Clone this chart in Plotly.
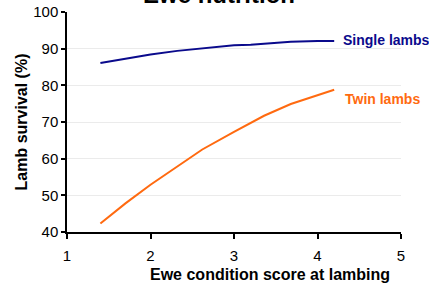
import plotly.graph_objects as go

single_x = [1.4, 1.7, 2.0, 2.32, 2.6, 3.0, 3.2, 3.4, 3.68, 4.0, 4.2]
single_y = [86.1, 87.3, 88.4, 89.4, 90.0, 90.9, 91.1, 91.5, 91.9, 92.1, 92.1]
twin_x = [1.4, 1.7, 2.0, 2.32, 2.62, 3.0, 3.36, 3.68, 4.0, 4.2]
twin_y = [42.3, 47.8, 52.9, 57.9, 62.5, 67.3, 71.7, 74.9, 77.2, 78.8]
x_ticks = [1, 2, 3, 4, 5]
y_ticks = [40, 50, 60, 70, 80, 90, 100]

FONT = "Liberation Sans, Arial, sans-serif"
BLUE = "#0A0A8C"
ORANGE = "#FF6A10"

fig = go.Figure()
fig.add_trace(go.Scatter(x=single_x, y=single_y, mode="lines",
                         line=dict(color=BLUE, width=2), showlegend=False))
fig.add_trace(go.Scatter(x=twin_x, y=twin_y, mode="lines",
                         line=dict(color=ORANGE, width=2), showlegend=False))

fig.add_annotation(x=single_x[-1], y=single_y[-1], text="<b>Single lambs</b>",
                   showarrow=False, xanchor="left", xshift=7, yshift=1,
                   font=dict(color=BLUE, size=14, family=FONT))
fig.add_annotation(x=twin_x[-1], y=twin_y[-1], text="<b>Twin lambs</b>",
                   showarrow=False, xanchor="left", xshift=9, yshift=-9,
                   font=dict(color=ORANGE, size=14, family=FONT))
fig.add_annotation(xref="paper", yref="paper", x=0.455, y=1, yshift=2,
                   text="<b>Ewe nutrition</b>", showarrow=False,
                   yanchor="bottom", font=dict(size=24, family=FONT, color="black"))
fig.add_annotation(xref="paper", yref="paper", x=0.608, y=0, yshift=-32,
                   text="<b>Ewe condition score at lambing</b>", showarrow=False,
                   yanchor="top", font=dict(size=16, family=FONT, color="black"))

fig.update_layout(
    width=429, height=284,
    margin=dict(l=67, r=28, t=12, b=52, autoexpand=False),
    paper_bgcolor="white", plot_bgcolor="white",
    font=dict(family=FONT, size=15, color="black"),
)
fig.update_xaxes(range=[1, 5], tickvals=x_ticks, showgrid=False, zeroline=False,
                 showline=True, linecolor="black", linewidth=1.5,
                 ticks="outside", ticklen=5, tickcolor="black", tickwidth=1.5,
                 tickfont=dict(size=15), ticklabelstandoff=4, automargin=False)
fig.update_yaxes(range=[40, 100], tickvals=y_ticks, showgrid=True,
                 gridcolor="#EBEBEB", gridwidth=1, zeroline=False,
                 showline=True, linecolor="black", linewidth=1.5,
                 ticks="outside", ticklen=4, tickcolor="black", tickwidth=1.5,
                 tickfont=dict(size=15), automargin=False,
                 title=dict(text="<b>Lamb survival (%)</b>", font=dict(size=16), standoff=2))

fig.write_html("out.html",
               config={"displayModeBar": False},
               post_script="document.body.style.margin='0';document.body.style.overflow='hidden';")
